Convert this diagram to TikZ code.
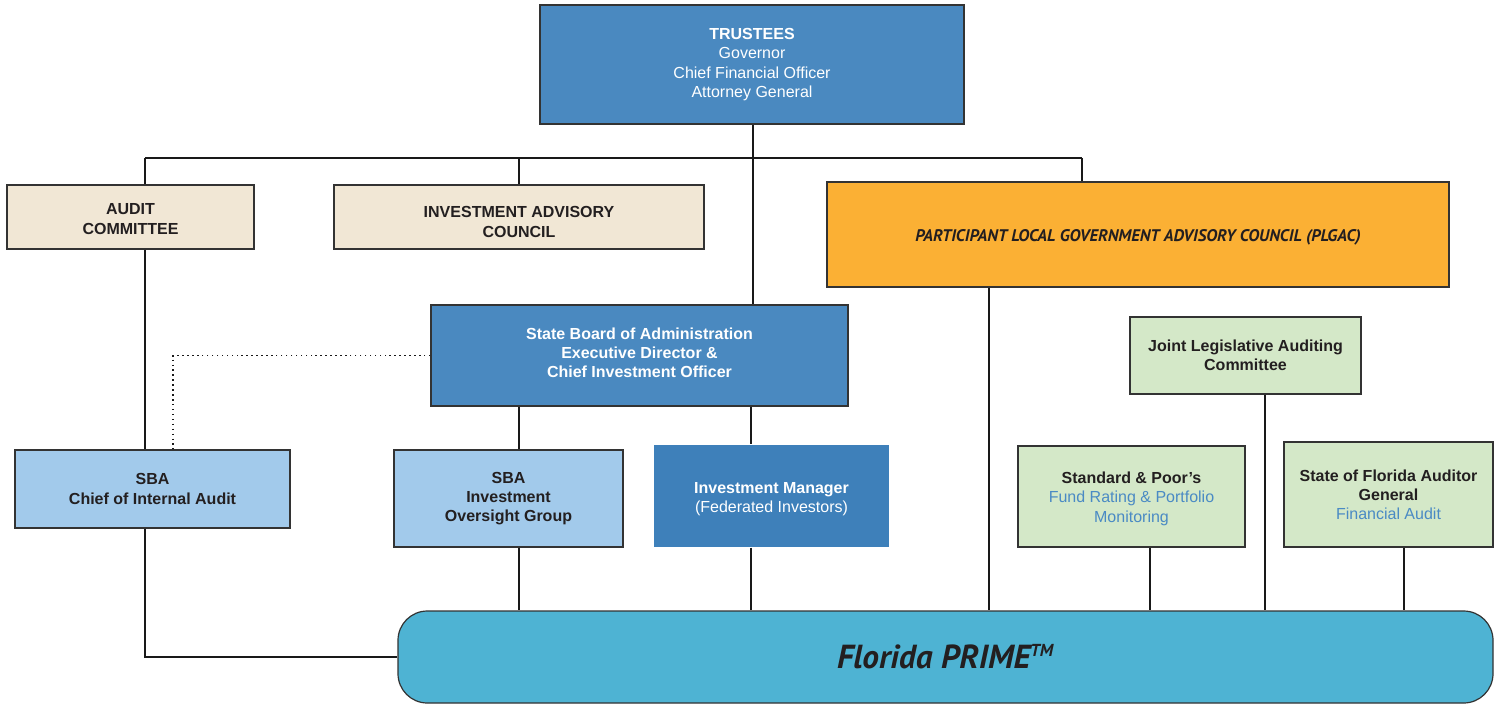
\documentclass[tikz,border=0pt]{standalone}
\usepackage{fontspec}
\setmainfont{Liberation Sans}
\newfontfamily\myriad{PT Sans}
\definecolor{tblue}{HTML}{4A89C0}
\definecolor{imblue}{HTML}{3E80BA}
\definecolor{lblue}{HTML}{A2CAEB}
\definecolor{beige}{HTML}{F1E7D5}
\definecolor{lgreen}{HTML}{D4E8C8}
\definecolor{orng}{HTML}{FBB034}
\definecolor{teal}{HTML}{4EB3D3}
\definecolor{bordr}{HTML}{333333}
\definecolor{txt}{HTML}{231F20}
\definecolor{linkblue}{HTML}{4A8AC4}
\newcommand{\bx}[7]{\node[#6, minimum width={(#4-#2)*0.75pt}, minimum height={(#5-#3)*0.75pt}] (#1) at ({(#2+#4)/2},{(#3+#5)/2}) {#7};}
\newcommand{\basesize}{\fontsize{12}{14.4}\selectfont}
\tikzset{
  base/.style={draw=bordr, line width=0.9pt, inner sep=0pt, align=center, font=\basesize},
  darkbox/.style={base, fill=tblue, text=white},
  imbox/.style={base, draw=none, fill=imblue, text=white},
  beigebox/.style={base, fill=beige, text=txt},
  lbluebox/.style={base, fill=lblue, text=txt},
  greenbox/.style={base, fill=lgreen, text=txt},
  orangebox/.style={base, fill=orng, text=txt},
  primebox/.style={base, fill=teal, text=txt, rounded corners=22pt},
  conn/.style={line width=0.9pt, draw=black!90},
  dotconn/.style={line width=1.1pt, dash pattern=on 1.1pt off 2.6pt, draw=black!90}
}
\begin{document}
\begin{tikzpicture}[x=0.75pt, y=-0.75pt]
\useasboundingbox (0,0) rectangle (1499,704);
\bx{trustees}{540}{5}{964}{124}{darkbox}{\textbf{TRUSTEES}\\Governor\\Chief Financial Officer\\Attorney General}
\bx{audit}{7}{185}{254}{249}{beigebox, font=\basesize\bfseries}{\rule{0pt}{11.5pt}AUDIT\\COMMITTEE}
\bx{iac}{334}{185}{704}{249}{beigebox, font=\basesize\bfseries}{\rule{0pt}{16pt}INVESTMENT ADVISORY\\COUNCIL}
\bx{plgac}{827}{182}{1449}{287}{orangebox, font=\myriad\fontsize{12.6}{14}\selectfont\bfseries\itshape}{\rule{0pt}{13pt}PARTICIPANT LOCAL GOVERNMENT ADVISORY COUNCIL (PLGAC)}
\bx{sbaexec}{431}{305}{848}{406}{darkbox, font=\basesize\bfseries}{State Board of Administration\\Executive Director \&\\Chief Investment Officer\rule[-4pt]{0pt}{4pt}}
\bx{jlac}{1130}{317}{1361}{394}{greenbox, font=\basesize\bfseries}{Joint Legislative Auditing\\Committee}
\bx{cia}{15}{450}{290}{528}{lbluebox, font=\basesize\bfseries}{SBA\\Chief of Internal Audit}
\bx{iog}{394}{450}{623}{547}{lbluebox, font=\basesize\bfseries}{SBA\\Investment\\Oversight Group}
\bx{im}{654}{445}{889}{547}{imbox}{\rule{0pt}{13pt}\textbf{Investment Manager}\\(Federated Investors)}
\bx{sp}{1018}{446}{1245}{547}{greenbox}{\rule{0pt}{12pt}\textbf{Standard \& Poor's}\\\textcolor{linkblue}{Fund Rating \& Portfolio}\\\textcolor{linkblue}{Monitoring}}
\bx{sfag}{1284}{442}{1493}{547}{greenbox}{\textbf{State of Florida Auditor}\\\textbf{General}\\\textcolor{linkblue}{Financial Audit}}
\bx{prime}{398}{611}{1493}{703}{primebox, font=\myriad\fontsize{25}{30}\selectfont\bfseries\itshape}{Florida PRIME\textsuperscript{\fontsize{13}{13}\selectfont TM}}
% connectors
\coordinate (b1) at (145,158);
\coordinate (b2) at (519,158);
\coordinate (b3) at (753,158);
\coordinate (b4) at (1082,158);
\coordinate (d1) at (173,0);
\coordinate (e2) at (751,0);
\coordinate (p1) at (989,0);
\coordinate (s1) at (1150,0);
\coordinate (j1) at (1265,0);
\coordinate (a1) at (1404,0);
\draw[conn] (b1) -- (b4);
\draw[conn] (b1) -- (b1 |- audit.north);
\draw[conn] (b2) -- (b2 |- iac.north);
\draw[conn] (b4) -- (b4 |- plgac.north);
\draw[conn] (b3 |- trustees.south) -- (b3 |- sbaexec.north);
\draw[conn] (b1 |- audit.south) -- (b1 |- cia.north);
\draw[dotconn] (sbaexec.west) -| (d1 |- cia.north);
\draw[conn] (b2 |- sbaexec.south) -- (b2 |- iog.north);
\draw[conn] (e2 |- sbaexec.south) -- (e2 |- im.north);
\draw[conn] (b1 |- cia.south) |- (prime.west);
\draw[conn] (b2 |- iog.south) -- (b2 |- prime.north);
\draw[conn] (e2 |- im.south) -- (e2 |- prime.north);
\draw[conn] (p1 |- plgac.south) -- (p1 |- prime.north);
\draw[conn] (s1 |- sp.south) -- (s1 |- prime.north);
\draw[conn] (j1 |- jlac.south) -- (j1 |- prime.north);
\draw[conn] (a1 |- sfag.south) -- (a1 |- prime.north);
\end{tikzpicture}
\end{document}
